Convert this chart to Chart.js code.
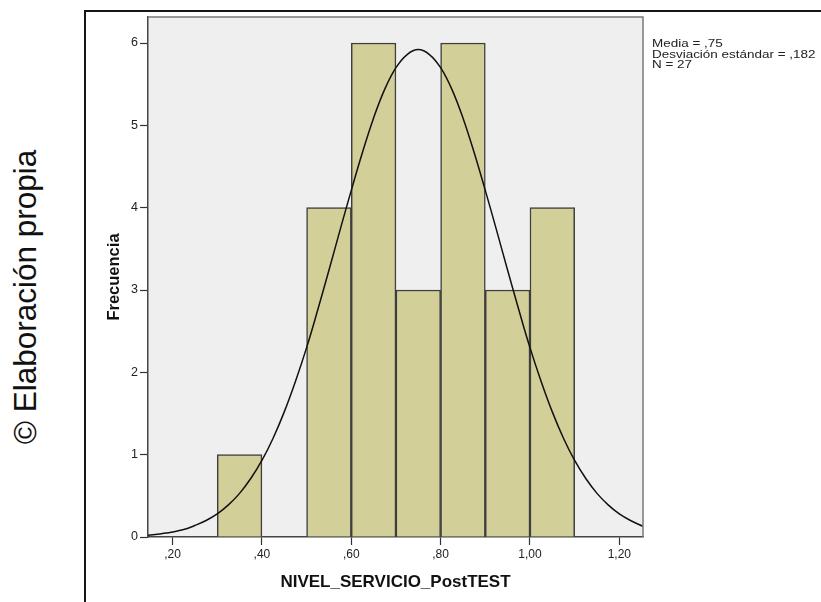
<!DOCTYPE html>
<html>
<head>
<meta charset="utf-8">
<script src="https://cdn.jsdelivr.net/npm/chart.js@4/dist/chart.umd.min.js"></script>
<style>
  html, body { margin:0; padding:0; background:#fff; }
  body { width:821px; height:602px; position:relative; overflow:hidden; font-family:"Liberation Sans", Arial, sans-serif; }
  #frame { position:absolute; left:84px; top:10px; width:800px; height:700px; border-left:2px solid #151515; border-top:2px solid #151515; box-sizing:border-box; }
  #chart { position:absolute; left:0; top:0; }
  #credit { position:absolute; left:25px; top:297px; transform:translate(-50%,-50%) rotate(-90deg); white-space:nowrap; font-size:31.5px; color:#111; }
  #stats { position:absolute; left:652px; top:38px; font-size:11.5px; line-height:10.5px; color:#222; white-space:nowrap; transform:scaleX(1.17); transform-origin:left top; }
</style>
</head>
<body>
<div id="frame"></div>
<div id="credit">© Elaboración propia</div>
<canvas id="chart" width="821" height="602"></canvas>
<div id="stats">Media = ,75<br>Desviación estándar = ,182<br>N = 27</div>
<script>
// Histogram bins (centres) and counts
const binCenters = [0.35, 0.55, 0.65, 0.75, 0.85, 0.95, 1.05];
const frequencies = [1, 4, 6, 3, 6, 3, 4];
// Normal curve
const curveX = [0.145, 0.175, 0.2, 0.225, 0.25, 0.275, 0.3, 0.325, 0.35, 0.375, 0.4, 0.425, 0.45, 0.475, 0.5, 0.525, 0.55, 0.575, 0.6, 0.625, 0.65, 0.675, 0.7, 0.725, 0.75, 0.775, 0.8, 0.825, 0.85, 0.875, 0.9, 0.925, 0.95, 0.975, 1.0, 1.025, 1.05, 1.075, 1.1, 1.125, 1.15, 1.175, 1.2, 1.225, 1.253];
const curveY = [0.02, 0.04, 0.06, 0.09, 0.14, 0.20, 0.28, 0.39, 0.53, 0.71, 0.93, 1.20, 1.52, 1.89, 2.30, 2.76, 3.24, 3.73, 4.21, 4.67, 5.09, 5.44, 5.70, 5.86, 5.92, 5.86, 5.70, 5.44, 5.09, 4.67, 4.21, 3.73, 3.24, 2.76, 2.30, 1.89, 1.52, 1.20, 0.93, 0.71, 0.53, 0.39, 0.28, 0.20, 0.13];
const xTicks = [0.2, 0.4, 0.6, 0.8, 1.0, 1.2];
const yTicks = [0, 1, 2, 3, 4, 5, 6];
const xLabel = 'NIVEL_SERVICIO_PostTEST';
const yLabel = 'Frecuencia';

const barData = binCenters.map((c, i) => ({x: c, y: frequencies[i]}));
const lineData = curveX.map((x, i) => ({x: x, y: curveY[i]}));

const bgPlugin = {
  id: 'plotBg',
  beforeDraw(chart) {
    const {ctx, chartArea: a} = chart;
    ctx.save();
    ctx.fillStyle = '#efefef';
    ctx.fillRect(a.left, a.top, a.right - a.left, a.bottom - a.top);
    ctx.restore();
  },
  afterDraw(chart) {
    const {ctx, chartArea: a} = chart;
    ctx.save();
    ctx.strokeStyle = '#7a7a7a';
    ctx.lineWidth = 1.5;
    ctx.beginPath();
    ctx.moveTo(a.left, a.top);
    ctx.lineTo(a.right, a.top);
    ctx.lineTo(a.right, a.bottom);
    ctx.stroke();
    ctx.restore();
  }
};

const fmtX = v => {
  const s = v.toFixed(2).replace('.', ',');
  return s.startsWith('0') ? s.slice(1) : s;
};

new Chart(document.getElementById('chart'), {
  data: {
    datasets: [
      {
        type: 'line',
        data: lineData,
        borderColor: '#111',
        borderWidth: 1.5,
        pointRadius: 0,
        tension: 0.4,
        fill: false,
        order: 0
      },
      {
        type: 'bar',
        data: barData,
        backgroundColor: '#d3cf98',
        borderColor: '#3e3e3e',
        borderWidth: 1.5,
        categoryPercentage: 1,
        barPercentage: 1,
        grouped: false,
        order: 1
      }
    ]
  },
  options: {
    responsive: false,
    animation: false,
    events: [],
    layout: { padding: { left: 90, top: 17, right: 178, bottom: 0 } },
    plugins: { legend: { display: false }, tooltip: { enabled: false } },
    scales: {
      x: {
        type: 'linear',
        min: 0.145,
        max: 1.253,
        offset: false,
        afterFit: s => { s.height = 65; },
        afterBuildTicks: s => { s.ticks = xTicks.map(v => ({value: v})); },
        ticks: { callback: fmtX, color: '#222', font: { size: 12, family: 'Liberation Sans' }, padding: 2, maxRotation: 0 },
        grid: { offset: false, drawOnChartArea: false, drawTicks: true, tickLength: 8, tickColor: '#333', tickWidth: 1.2 },
        border: { color: '#444', width: 1.5 },
        title: { display: true, text: xLabel, color: '#111', font: { size: 17, weight: 'bold', family: 'Liberation Sans' }, padding: { top: 0, bottom: 9.8 } }
      },
      y: {
        type: 'linear',
        min: 0,
        max: 6.316,
        afterFit: s => { s.width = 58; },
        afterBuildTicks: s => { s.ticks = yTicks.map(v => ({value: v})); },
        ticks: { color: '#222', font: { size: 12.5, family: 'Liberation Sans' }, padding: 2 },
        grid: { offset: false, drawOnChartArea: false, drawTicks: true, tickLength: 8, tickColor: '#333', tickWidth: 1.2 },
        border: { color: '#444', width: 1.5 },
        title: { display: true, text: yLabel, color: '#111', font: { size: 16.5, weight: 'bold', family: 'Liberation Sans' }, padding: { top: 14.6, bottom: 0 } }
      }
    }
  },
  plugins: [bgPlugin]
});
</script>
</body>
</html>
